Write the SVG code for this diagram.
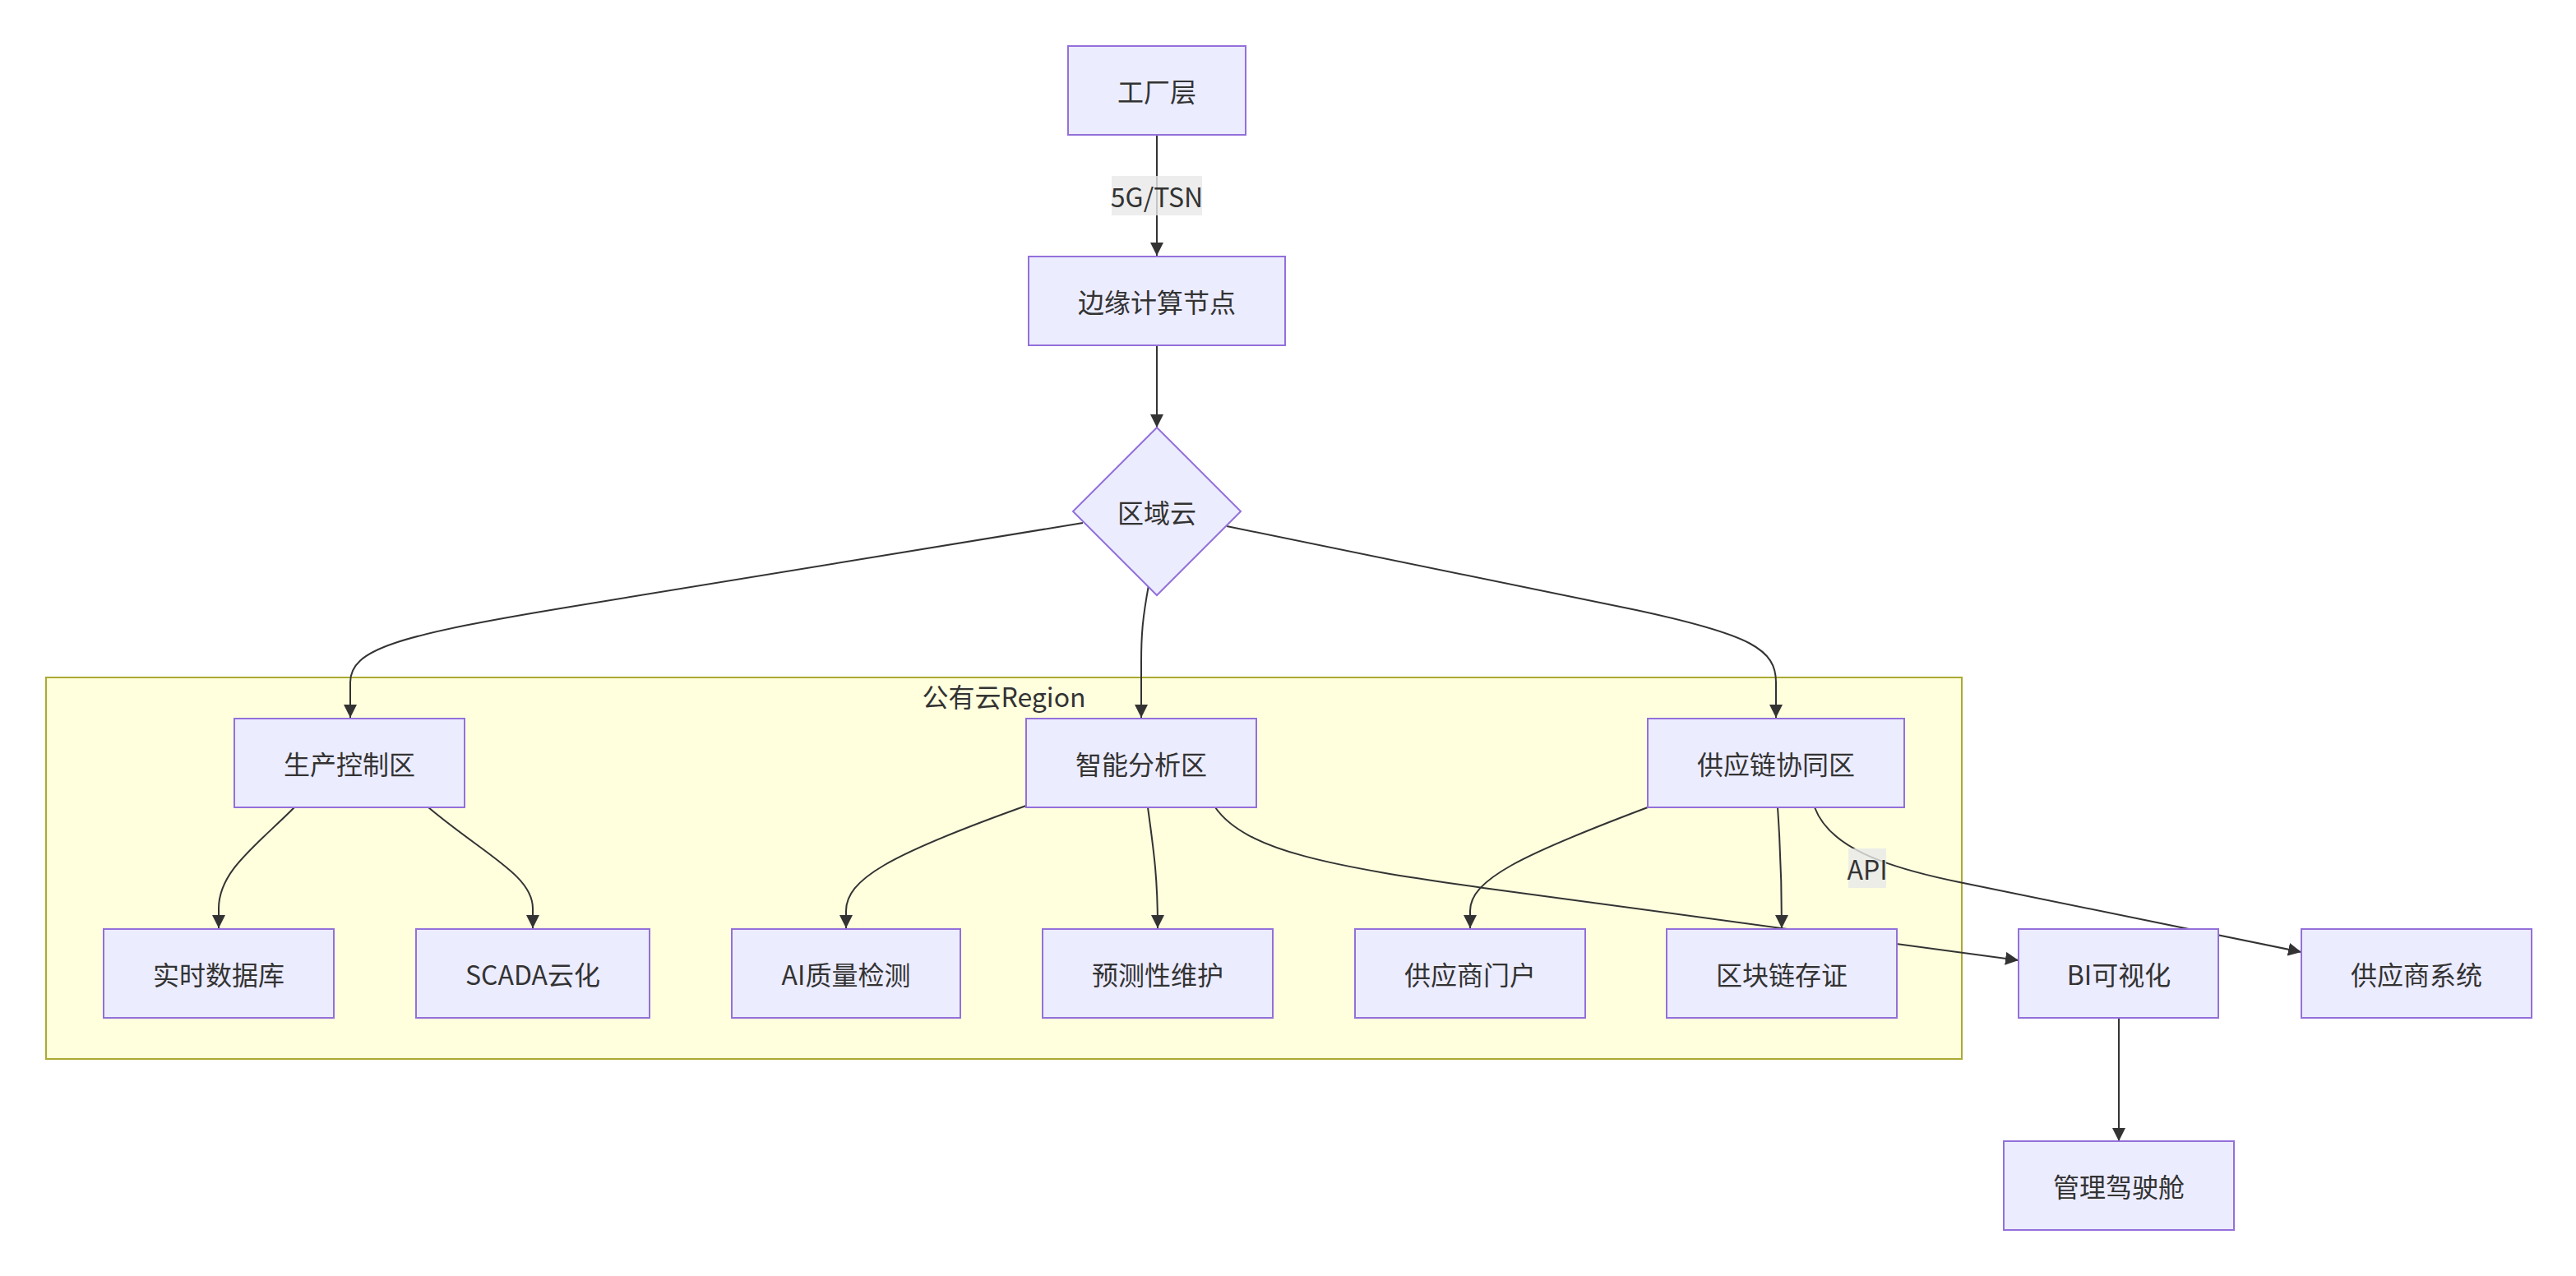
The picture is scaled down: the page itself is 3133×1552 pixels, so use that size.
<svg xmlns="http://www.w3.org/2000/svg" width="3133" height="1552" viewBox="0 0 3133 1552">
<style>
.node rect,.node polygon{fill:#ECECFF;stroke:#9370DB;stroke-width:2}
.cluster rect{fill:#ffffde;stroke:#aaaa33;stroke-width:2}
text{font-family:"Noto Sans CJK SC","Noto Sans",sans-serif;font-size:32px;fill:#333333;text-anchor:middle;dominant-baseline:central}
.edge{fill:none;stroke:#333333;stroke-width:2}
.lbl{fill:#e8e8e8;opacity:0.8}
</style>
<defs>
<marker id="arr" viewBox="0 0 10 10" refX="10" refY="5" markerWidth="16" markerHeight="16" markerUnits="userSpaceOnUse" orient="auto">
<path d="M0,0 L10,5 L0,10 z" fill="#333333"/>
</marker>
</defs>
<rect width="3133" height="1552" fill="#ffffff"/>
<g id="cluster-public" class="cluster">
<rect x="56" y="824" width="2330" height="464"/>
<text x="1221" y="846">公有云Region</text>
</g>
<g id="connectors">
<path class="edge" d="M1407,164 L1407,311" marker-end="url(#arr)"/>
<path class="edge" d="M1407,420 L1407,520" marker-end="url(#arr)"/>
<path class="edge" d="M1317,636 L700,737 C480,773 426,790 426,830 L426,873" marker-end="url(#arr)"/>
<path class="edge" d="M1397,712 C1390,750 1388,770 1388,805 L1388,873" marker-end="url(#arr)"/>
<path class="edge" d="M1492,640 L1990,742 C2130,772 2160,790 2160,830 L2160,873" marker-end="url(#arr)"/>
<path class="edge" d="M358,982 C310,1030 266,1060 266,1105 L266,1129" marker-end="url(#arr)"/>
<path class="edge" d="M521,982 C590,1040 648,1065 648,1105 L648,1129" marker-end="url(#arr)"/>
<path class="edge" d="M1248,980 C1080,1040 1029,1070 1029,1108 L1029,1129" marker-end="url(#arr)"/>
<path class="edge" d="M1396,982 C1404,1040 1408,1070 1408,1129" marker-end="url(#arr)"/>
<path class="edge" d="M1478,982 C1515,1035 1620,1054 1804,1080 L2455,1168" marker-end="url(#arr)"/>
<path class="edge" d="M2004,982 C1850,1040 1788,1070 1788,1108 L1788,1129" marker-end="url(#arr)"/>
<path class="edge" d="M2162,982 C2166,1040 2167,1080 2167,1129" marker-end="url(#arr)"/>
<path class="edge" d="M2207,982 C2225,1030 2290,1054 2383,1073 L2799,1158" marker-end="url(#arr)"/>
<path class="edge" d="M2577,1238 L2577,1388" marker-end="url(#arr)"/>
<rect class="lbl" x="1352" y="214" width="110" height="48"/>
<text x="1407" y="238">5G/TSN</text>
<rect class="lbl" x="2248" y="1032" width="46" height="48"/>
<text x="2271" y="1056">API</text>
</g>
<g id="node-factory" class="node"><rect x="1299" y="56" width="216" height="108"/><text x="1407" y="110">工厂层</text></g>
<g id="node-edge" class="node"><rect x="1251" y="312" width="312" height="108"/><text x="1407" y="366">边缘计算节点</text></g>
<g id="node-region" class="node"><polygon points="1407,520 1509,622 1407,724 1305,622"/><text x="1407" y="622">区域云</text></g>
<g id="node-prod" class="node"><rect x="285" y="874" width="280" height="108"/><text x="425" y="928">生产控制区</text></g>
<g id="node-ai" class="node"><rect x="1248" y="874" width="280" height="108"/><text x="1388" y="928">智能分析区</text></g>
<g id="node-supply" class="node"><rect x="2004" y="874" width="312" height="108"/><text x="2160" y="928">供应链协同区</text></g>
<g id="node-rtdb" class="node"><rect x="126" y="1130" width="280" height="108"/><text x="266" y="1184">实时数据库</text></g>
<g id="node-scada" class="node"><rect x="506" y="1130" width="284" height="108"/><text x="648" y="1184">SCADA云化</text></g>
<g id="node-aiqc" class="node"><rect x="890" y="1130" width="278" height="108"/><text x="1029" y="1184">AI质量检测</text></g>
<g id="node-pm" class="node"><rect x="1268" y="1130" width="280" height="108"/><text x="1408" y="1184">预测性维护</text></g>
<g id="node-portal" class="node"><rect x="1648" y="1130" width="280" height="108"/><text x="1788" y="1184">供应商门户</text></g>
<g id="node-chain" class="node"><rect x="2027" y="1130" width="280" height="108"/><text x="2167" y="1184">区块链存证</text></g>
<g id="node-bi" class="node"><rect x="2455" y="1130" width="243" height="108"/><text x="2577" y="1184">BI可视化</text></g>
<g id="node-supsys" class="node"><rect x="2799" y="1130" width="280" height="108"/><text x="2939" y="1184">供应商系统</text></g>
<g id="node-cockpit" class="node"><rect x="2437" y="1388" width="280" height="108"/><text x="2577" y="1442">管理驾驶舱</text></g>
</svg>
